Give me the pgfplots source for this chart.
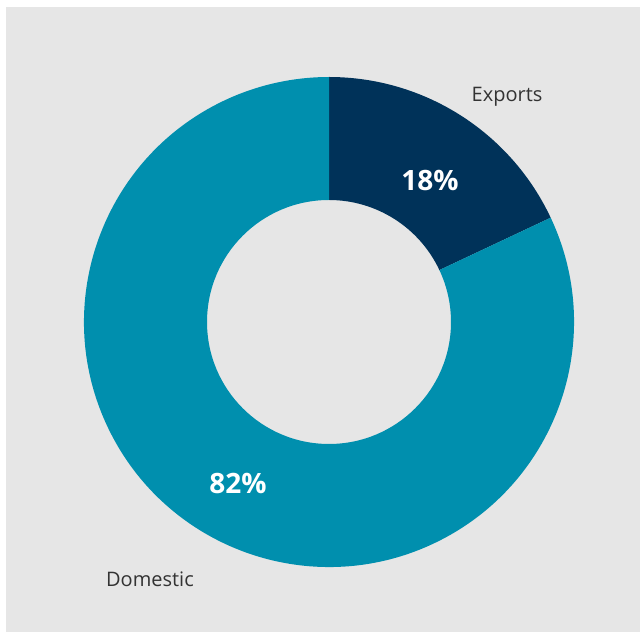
\documentclass[border=0pt]{standalone}
\usepackage{pgfplots}
\pgfplotsset{compat=1.18}
\usepackage{pgfplotstable}
\usepackage{fontspec}
\setmainfont{Open Sans}
\definecolor{bg}{HTML}{E6E6E6}
\definecolor{navy}{HTML}{003259}
\definecolor{teal}{HTML}{008FAE}
\definecolor{txt}{HTML}{333333}
\pgfplotstableread{
label value
Exports 18
Domestic 82
}\sharetable
\pgfplotstablegetelem{0}{value}\of\sharetable\let\vExp\pgfplotsretval
\pgfplotstablegetelem{1}{value}\of\sharetable\let\vDom\pgfplotsretval
\begin{document}
\begin{tikzpicture}
\begin{axis}[x=1pt,y=1pt,xmin=-329,xmax=311,ymin=-310,ymax=322,
  hide axis,clip=false,scale only axis]
\fill[white] (axis cs:-329,-310) rectangle (axis cs:311,322);
\fill[bg] (axis cs:-323,-310) rectangle (axis cs:311,315);
\pgfmathsetmacro{\aE}{90-3.6*\vExp}
\pgfmathsetmacro{\aD}{\aE-3.6*\vDom}
\fill[navy] (axis cs:0,245) arc[start angle=90,end angle=\aE,radius=245pt]
  -- (axis cs:{122*cos(\aE)},{122*sin(\aE)}) arc[start angle=\aE,end angle=90,radius=122pt] -- cycle;
\fill[teal] (axis cs:{245*cos(\aE)},{245*sin(\aE)}) arc[start angle=\aE,end angle=\aD,radius=245pt]
  -- (axis cs:0,122) arc[start angle=\aD,end angle=\aE,radius=122pt] -- cycle;
\node[white,font=\fontsize{28}{32}\selectfont\bfseries] at (axis cs:101,141) {\vExp\%};
\node[white,font=\fontsize{28}{32}\selectfont\bfseries] at (axis cs:-91,-161) {\vDom\%};
\node[txt,font=\fontsize{20}{24}\selectfont] at (axis cs:178,225) {Exports};
\node[txt,font=\fontsize{20}{24}\selectfont] at (axis cs:-179,-257) {Domestic};
\end{axis}
\end{tikzpicture}
\end{document}
